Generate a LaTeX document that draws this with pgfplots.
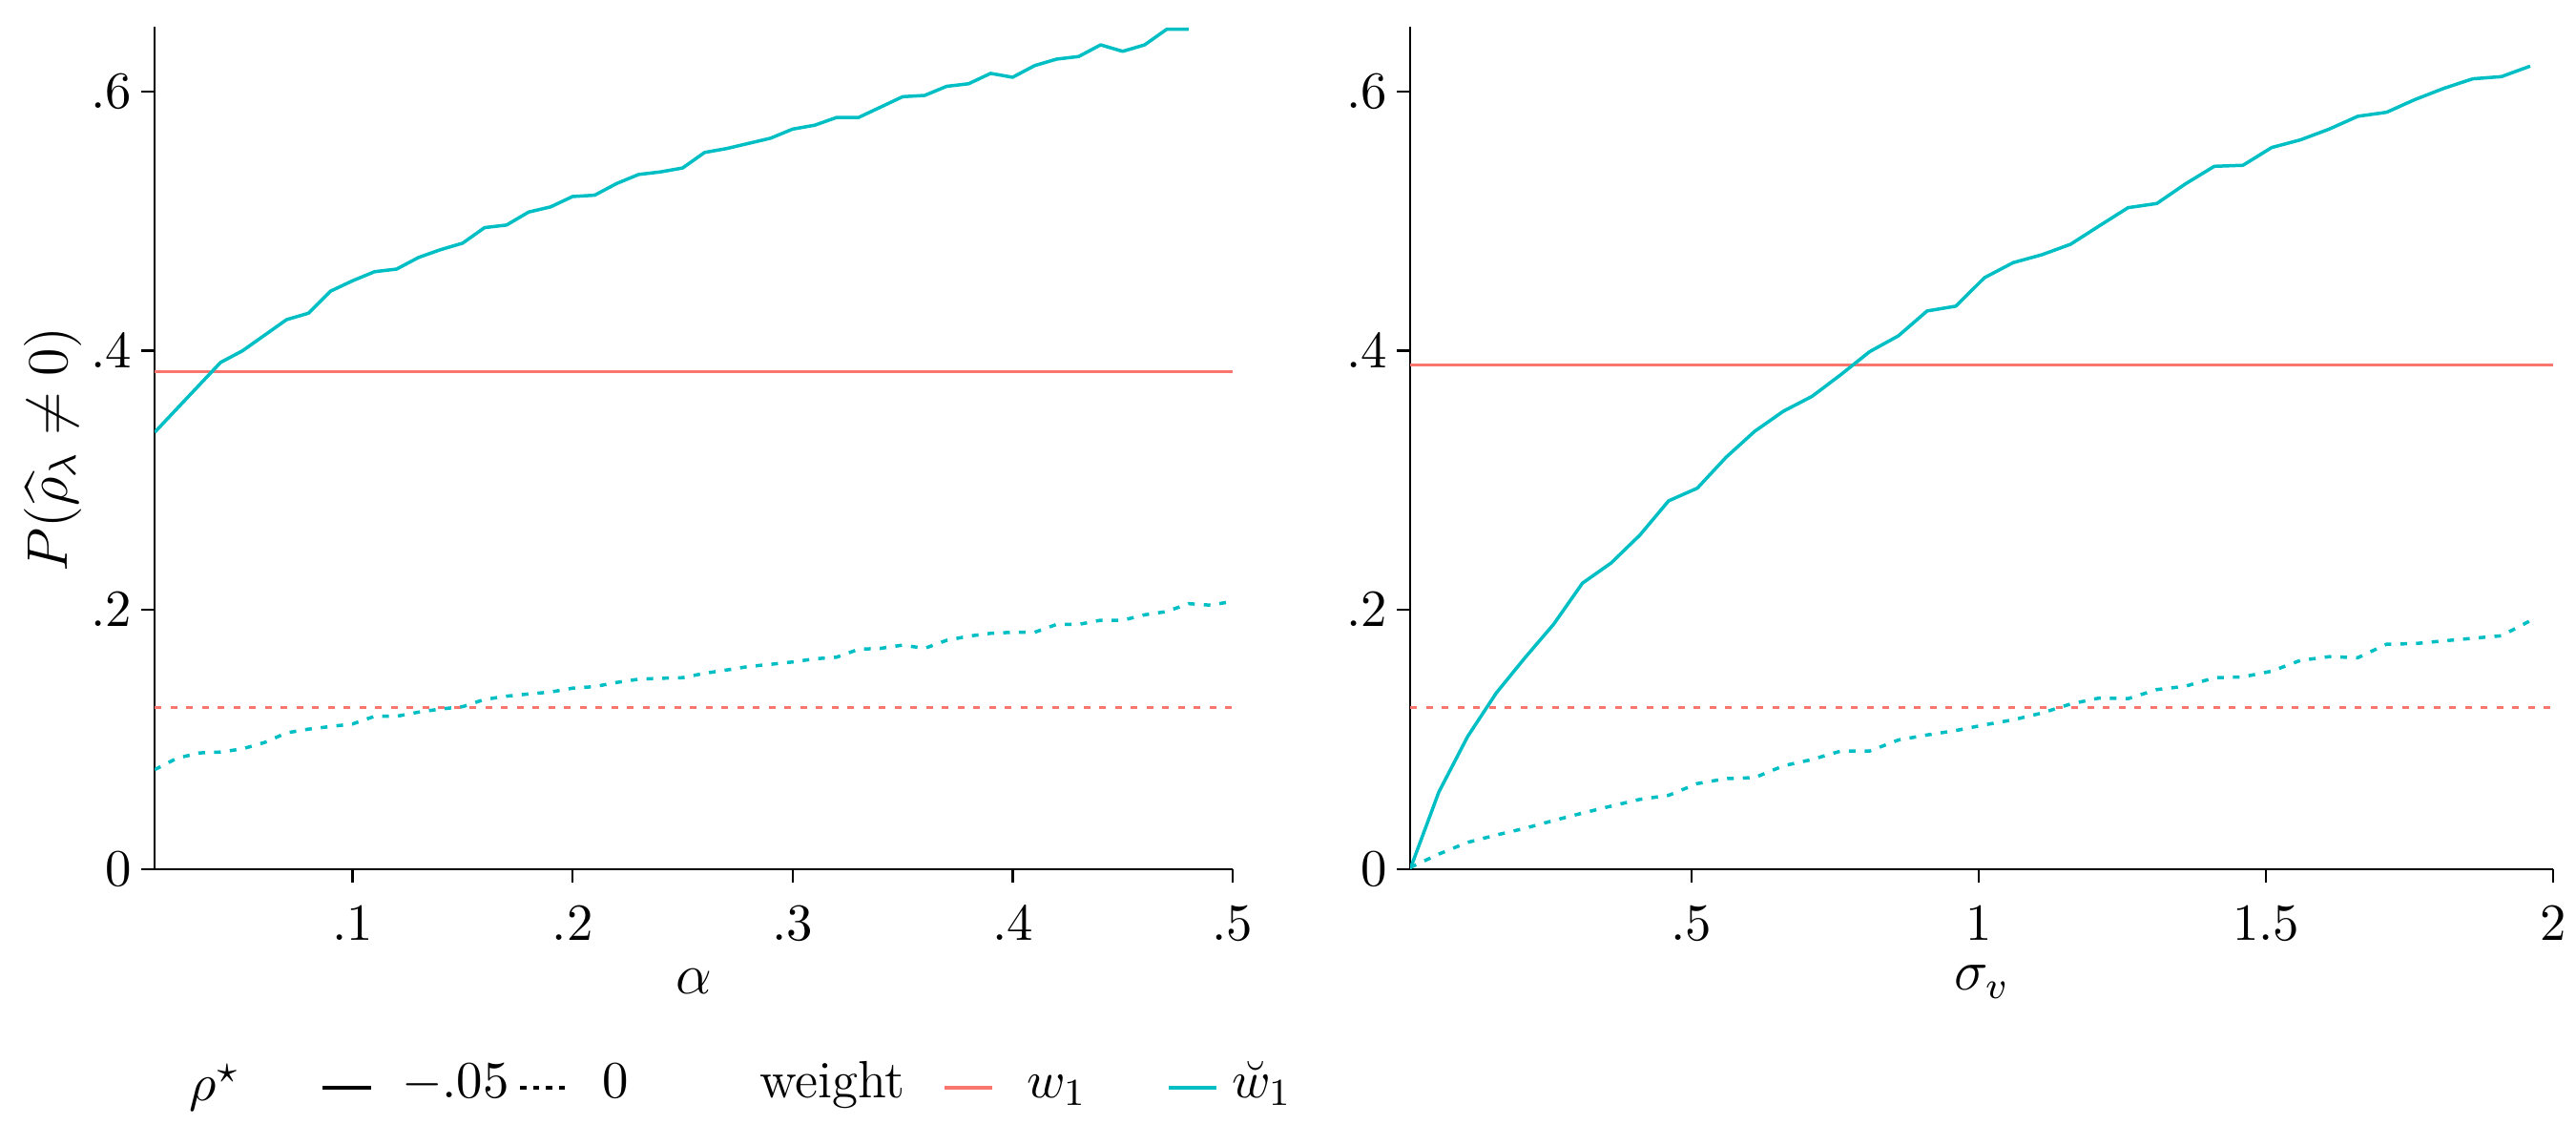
\documentclass[border=0pt]{standalone}
\usepackage{pgfplots}
\pgfplotsset{compat=1.18}
\usepackage{pgfplotstable}
\usepackage{amsmath,amssymb}
\definecolor{cred}{HTML}{F8766D}
\definecolor{cteal}{HTML}{00BFC4}

\pgfplotstableread{
x y
0.01 0.337
0.02 0.355
0.03 0.373
0.04 0.391
0.05 0.400
0.06 0.412
0.07 0.424
0.08 0.429
0.09 0.446
0.10 0.454
0.11 0.461
0.12 0.463
0.13 0.472
0.14 0.478
0.15 0.483
0.16 0.495
0.17 0.497
0.18 0.507
0.19 0.511
0.20 0.519
0.21 0.520
0.22 0.529
0.23 0.536
0.24 0.538
0.25 0.541
0.26 0.553
0.27 0.556
0.28 0.560
0.29 0.564
0.30 0.571
0.31 0.574
0.32 0.580
0.33 0.580
0.34 0.588
0.35 0.596
0.36 0.597
0.37 0.604
0.38 0.606
0.39 0.614
0.40 0.611
0.41 0.620
0.42 0.625
0.43 0.627
0.44 0.636
0.45 0.631
0.46 0.636
0.47 0.648
0.48 0.648
}\leftsolid

\pgfplotstableread{
x y
0.01 0.0768
0.02 0.0855
0.03 0.0897
0.04 0.0904
0.05 0.0929
0.06 0.0978
0.07 0.1052
0.08 0.1081
0.09 0.1101
0.10 0.1121
0.11 0.1180
0.12 0.1180
0.13 0.1212
0.14 0.1236
0.15 0.1254
0.16 0.1310
0.17 0.1335
0.18 0.1352
0.19 0.1367
0.20 0.1397
0.21 0.1409
0.22 0.1441
0.23 0.1466
0.24 0.1473
0.25 0.1478
0.26 0.1512
0.27 0.1537
0.28 0.1564
0.29 0.1581
0.30 0.1599
0.31 0.1623
0.32 0.1636
0.33 0.1697
0.34 0.1704
0.35 0.1729
0.36 0.1704
0.37 0.1766
0.38 0.1798
0.39 0.1820
0.40 0.1828
0.41 0.1828
0.42 0.1889
0.43 0.1889
0.44 0.1921
0.45 0.1921
0.46 0.1963
0.47 0.1988
0.48 0.2049
0.49 0.2037
0.50 0.2067
}\leftdot

\pgfplotstableread{
x y
0.01 0.000
0.06 0.0596
0.11 0.1023
0.16 0.1360
0.21 0.1632
0.26 0.1891
0.31 0.2207
0.36 0.2363
0.41 0.2578
0.46 0.2842
0.51 0.2940
0.56 0.3178
0.61 0.3379
0.66 0.3534
0.71 0.3649
0.76 0.3816
0.81 0.3993
0.86 0.4115
0.91 0.4307
0.96 0.4344
1.01 0.4564
1.06 0.4680
1.11 0.4741
1.16 0.4822
1.21 0.4964
1.26 0.5104
1.31 0.5136
1.36 0.5288
1.41 0.5423
1.46 0.5431
1.51 0.5568
1.56 0.5627
1.61 0.5710
1.66 0.5809
1.71 0.5840
1.76 0.5939
1.81 0.6025
1.86 0.6098
1.91 0.6115
1.96 0.6196
}\rightsolid

\pgfplotstableread{
x y
0.01 0.0013
0.06 0.0117
0.11 0.0207
0.16 0.0264
0.21 0.0316
0.26 0.0376
0.31 0.0433
0.36 0.0487
0.41 0.0539
0.46 0.0570
0.51 0.0661
0.56 0.0699
0.61 0.0707
0.66 0.0798
0.71 0.0847
0.76 0.0912
0.81 0.0912
0.86 0.0997
0.91 0.1036
0.96 0.1070
1.01 0.1114
1.06 0.1153
1.11 0.1205
1.16 0.1275
1.21 0.1321
1.26 0.1316
1.31 0.1386
1.36 0.1412
1.41 0.1477
1.46 0.1484
1.51 0.1528
1.56 0.1611
1.61 0.1640
1.66 0.1632
1.71 0.1736
1.76 0.1741
1.81 0.1762
1.86 0.1782
1.91 0.1801
1.96 0.1917
}\rightdot

\pgfplotsset{
  myax/.style={
    scale only axis, anchor=south west, enlargelimits=false,
    axis x line*=bottom, axis y line*=left,
    axis line style={-, line width=0.45pt, black},
    tick align=outside, major tick length=2.8pt,
    every tick/.style={line width=0.45pt, black},
    ymin=0, ymax=0.65, ytick={0,0.2,0.4,0.6},
    yticklabels={$0$,$.2$,$.4$,$.6$},
    ticklabel style={font=\fontsize{10.5}{12}\selectfont},
    yticklabel style={xshift=1.5pt},
    xticklabel style={yshift=-1.6pt},
    clip=true,
  },
  solid teal/.style={cteal, line width=0.7pt, line join=round},
  dot teal/.style={cteal, line width=0.7pt, dash pattern=on 1.4pt off 1.9pt},
  solid red/.style={cred, line width=0.65pt},
  dot red/.style={cred, line width=0.65pt, dash pattern=on 1.4pt off 1.9pt},
}

\begin{document}
\begin{tikzpicture}
\useasboundingbox (0,0) rectangle (540pt,240pt);

\begin{axis}[myax, at={(32.4pt,57.8pt)}, width=226pt, height=176.6pt,
  xmin=0.01, xmax=0.5, xtick={0.1,0.2,0.3,0.4,0.5},
  xticklabels={$.1$,$.2$,$.3$,$.4$,$.5$}]
\addplot[solid red] coordinates {(0.01,0.384) (0.5,0.384)};
\addplot[dot red] coordinates {(0.01,0.125) (0.5,0.125)};
\addplot[solid teal] table[x=x,y=y] {\leftsolid};
\addplot[dot teal] table[x=x,y=y] {\leftdot};
\end{axis}

\begin{axis}[myax, at={(295.6pt,57.8pt)}, width=239.6pt, height=176.6pt,
  xmin=0.01, xmax=2, xtick={0.5,1,1.5,2},
  xticklabels={$.5$,$1$,$1.5$,$2$}]
\addplot[solid red] coordinates {(0.01,0.389) (2,0.389)};
\addplot[dot red] coordinates {(0.01,0.125) (2,0.125)};
\addplot[solid teal] table[x=x,y=y] {\rightsolid};
\addplot[dot teal] table[x=x,y=y] {\rightdot};
\end{axis}

% axis titles
\node[font=\fontsize{12}{14}\selectfont] at (145.4pt,34.2pt) {$\alpha$};
\node[font=\fontsize{12}{14}\selectfont] at (415.4pt,34.2pt) {$\sigma_v$};
\node[font=\fontsize{12}{14}\selectfont, rotate=90] at (11pt,145.8pt) {$P(\widehat{\rho}_\lambda \neq 0)$};

% legend
\begin{scope}[font=\fontsize{11}{13}\selectfont]
\node at (45pt,12pt) {$\rho^\star$};
\draw[black, line width=0.8pt] (67.6pt,12pt) -- (77.8pt,12pt);
\node[anchor=mid west, inner sep=0pt] at (84pt,12pt) {$-.05$};
\draw[black, line width=0.8pt, dash pattern=on 1.3pt off 1.4pt] (109pt,12pt) -- (119.5pt,12pt);
\node[anchor=mid west, inner sep=0pt] at (126pt,12pt) {$0$};
\node[anchor=mid west, inner sep=0pt] at (159pt,12pt) {weight};
\draw[cred, line width=0.8pt] (198pt,12pt) -- (208pt,12pt);
\node[anchor=mid west, inner sep=0pt] at (215pt,12pt) {$w_1$};
\draw[cteal, line width=0.8pt] (245pt,12pt) -- (255pt,12pt);
\node[anchor=mid west, inner sep=0pt] at (258pt,12pt) {$\breve{w}_1$};
\end{scope}
\end{tikzpicture}
\end{document}
